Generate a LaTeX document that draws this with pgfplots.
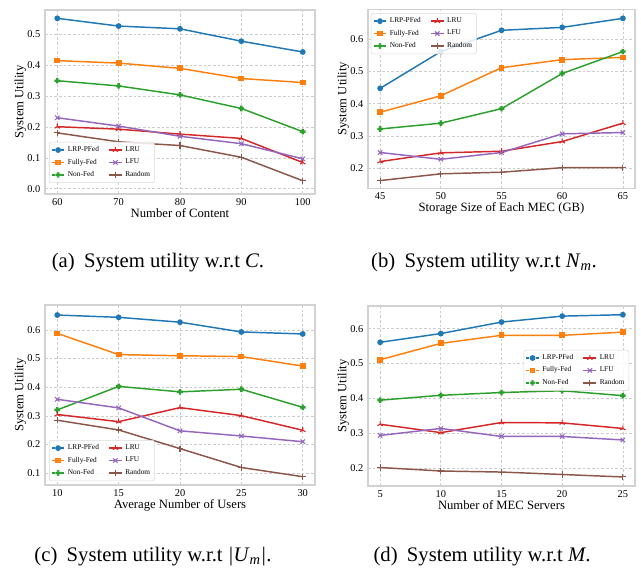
\documentclass[border=0pt]{standalone}
\usepackage{fontspec}
\setmainfont{Liberation Serif}
\usepackage{pgfplots}
\pgfplotsset{compat=1.18}
\usetikzlibrary{plotmarks}

\definecolor{cA}{HTML}{1F77B4}
\definecolor{cB}{HTML}{FF7F0E}
\definecolor{cC}{HTML}{2CA02C}
\definecolor{cD}{HTML}{D62728}
\definecolor{cE}{HTML}{9467BD}
\definecolor{cF}{HTML}{8C564B}

% filled plus marker (matplotlib "P")
\pgfdeclareplotmark{Pfill}{%
  \pgfpathrectangle{\pgfpoint{-\pgfplotmarksize}{-0.42\pgfplotmarksize}}{\pgfpoint{2\pgfplotmarksize}{0.84\pgfplotmarksize}}%
  \pgfpathrectangle{\pgfpoint{-0.42\pgfplotmarksize}{-\pgfplotmarksize}}{\pgfpoint{0.84\pgfplotmarksize}{2\pgfplotmarksize}}%
  \pgfusepathqfill}

\pgfplotsset{
  util/.style={
    scale only axis,
    axis line style={gray!35, line width=0.8pt},
    major tick length=0pt,
    grid=major,
    major grid style={gray!40, dash pattern=on 2pt off 1.5pt, line width=0.5pt},
    tick label style={font=\fontsize{7.8}{9}\selectfont},
    label style={font=\fontsize{9.5}{11}\selectfont},
    ylabel={System Utility},
    /pgf/number format/assume math mode=true,
    yticklabel style={/pgf/number format/.cd, fixed, fixed zerofill, precision=1},
    xtick=data,
    legend columns=3,
    transpose legend,
    legend cell align=left,
    legend style={font=\fontsize{5.5}{6.5}\selectfont, draw=gray!30, rounded corners=1.5pt,
      fill=white, fill opacity=0.85, text opacity=1, inner sep=1.2pt,
      /tikz/every even column/.append style={column sep=5pt}},
    legend image code/.code={\draw[mark repeat=2, mark phase=2]
      plot coordinates {(0cm,0cm) (0.17cm,0cm) (0.34cm,0cm)};},
    ylabel shift=-6pt,
    xlabel shift=-5pt,
  },
  dleg/.style={legend image code/.code={\draw[mark repeat=2, mark phase=2, dash pattern=on 2.4pt off 1.2pt]
      plot coordinates {(0cm,0cm) (0.17cm,0cm) (0.34cm,0cm)};}},
  sLRP/.style={cA, line width=1.1pt, mark=*, mark size=1.6pt, mark options={solid}, dleg},
  sFUL/.style={cB, line width=1.1pt, mark=square*, mark size=1.6pt, mark options={solid}, dleg},
  sNON/.style={cC, line width=1.1pt, mark=Pfill, mark size=2.1pt, mark options={solid}, dleg},
  sLRU/.style={cD, line width=1.1pt, mark=Mercedes star, mark size=2.3pt, mark options={solid, line width=0.8pt}},
  sLFU/.style={cE, line width=1.1pt, mark=x, mark size=2.3pt, mark options={solid, line width=0.8pt}},
  sRND/.style={cF, line width=1.1pt, mark=+, mark size=2.3pt, mark options={solid, line width=0.8pt}},
}

\begin{document}
\begin{tikzpicture}
\path[use as bounding box] (0pt,0pt) rectangle (480.75pt,428.25pt);

% (a) number of content
\begin{axis}[util, at={(33.75pt,282.75pt)}, anchor=south west,
    width=202.5pt, height=138pt,
    xmin=58, xmax=102, ymin=-0.017, ymax=0.579,
    ytick={0,0.1,0.2,0.3,0.4,0.5},
    xlabel={Number of Content},
    legend style={at={(0.015,0.06)}, anchor=south west}]
\addplot[sLRP] coordinates {(60,0.552) (70,0.527) (80,0.518) (90,0.478) (100,0.443)};
\addlegendentry{LRP-PFed}
\addplot[sFUL] coordinates {(60,0.415) (70,0.407) (80,0.390) (90,0.357) (100,0.344)};
\addlegendentry{Fully-Fed}
\addplot[sNON] coordinates {(60,0.350) (70,0.333) (80,0.304) (90,0.260) (100,0.185)};
\addlegendentry{Non-Fed}
\addplot[sLRU] coordinates {(60,0.201) (70,0.193) (80,0.177) (90,0.163) (100,0.085)};
\addlegendentry{LRU}
\addplot[sLFU] coordinates {(60,0.230) (70,0.203) (80,0.170) (90,0.146) (100,0.097)};
\addlegendentry{LFU}
\addplot[sRND] coordinates {(60,0.181) (70,0.152) (80,0.140) (90,0.102) (100,0.026)};
\addlegendentry{Random}
\end{axis}

% (b) storage size
\begin{axis}[util, at={(276pt,287pt)}, anchor=south west,
    width=200.25pt, height=134.25pt,
    xmin=44, xmax=66, ymin=0.138, ymax=0.693,
    ytick={0.2,0.3,0.4,0.5,0.6},
    xlabel={Storage Size of Each MEC (GB)},
    legend style={at={(0.011,0.979)}, anchor=north west}]
\addplot[sLRP] coordinates {(45,0.448) (50,0.562) (55,0.628) (60,0.637) (65,0.665)};
\addlegendentry{LRP-PFed}
\addplot[sFUL] coordinates {(45,0.374) (50,0.425) (55,0.512) (60,0.537) (65,0.544)};
\addlegendentry{Fully-Fed}
\addplot[sNON] coordinates {(45,0.322) (50,0.340) (55,0.385) (60,0.494) (65,0.562)};
\addlegendentry{Non-Fed}
\addplot[sLRU] coordinates {(45,0.221) (50,0.248) (55,0.253) (60,0.283) (65,0.340)};
\addlegendentry{LRU}
\addplot[sLFU] coordinates {(45,0.249) (50,0.228) (55,0.249) (60,0.307) (65,0.311)};
\addlegendentry{LFU}
\addplot[sRND] coordinates {(45,0.162) (50,0.183) (55,0.188) (60,0.202) (65,0.202)};
\addlegendentry{Random}
\end{axis}

% (c) average number of users
\begin{axis}[util, at={(33.75pt,64.5pt)}, anchor=south west,
    width=202.5pt, height=135pt,
    xmin=9, xmax=31, ymin=0.059, ymax=0.687,
    ytick={0.1,0.2,0.3,0.4,0.5,0.6},
    xlabel={Average Number of Users},
    legend style={at={(0.015,0.022)}, anchor=south west}]
\addplot[sLRP] coordinates {(10,0.652) (15,0.644) (20,0.627) (25,0.593) (30,0.586)};
\addlegendentry{LRP-PFed}
\addplot[sFUL] coordinates {(10,0.588) (15,0.514) (20,0.510) (25,0.507) (30,0.474)};
\addlegendentry{Fully-Fed}
\addplot[sNON] coordinates {(10,0.321) (15,0.403) (20,0.384) (25,0.393) (30,0.330)};
\addlegendentry{Non-Fed}
\addplot[sLRU] coordinates {(10,0.305) (15,0.280) (20,0.329) (25,0.301) (30,0.250)};
\addlegendentry{LRU}
\addplot[sLFU] coordinates {(10,0.358) (15,0.328) (20,0.248) (25,0.230) (30,0.210)};
\addlegendentry{LFU}
\addplot[sRND] coordinates {(10,0.285) (15,0.251) (20,0.186) (25,0.120) (30,0.088)};
\addlegendentry{Random}
\end{axis}

% (d) number of MEC servers
\begin{axis}[util, at={(276pt,63.75pt)}, anchor=south west,
    width=200.25pt, height=135pt,
    xmin=4, xmax=26, ymin=0.149, ymax=0.665,
    ytick={0.2,0.3,0.4,0.5,0.6},
    xlabel={Number of MEC Servers},
    legend style={at={(0.978,0.756)}, anchor=north east}]
\addplot[sLRP] coordinates {(5,0.561) (10,0.586) (15,0.619) (20,0.636) (25,0.640)};
\addlegendentry{LRP-PFed}
\addplot[sFUL] coordinates {(5,0.511) (10,0.558) (15,0.581) (20,0.581) (25,0.590)};
\addlegendentry{Fully-Fed}
\addplot[sNON] coordinates {(5,0.395) (10,0.409) (15,0.417) (20,0.422) (25,0.408)};
\addlegendentry{Non-Fed}
\addplot[sLRU] coordinates {(5,0.326) (10,0.302) (15,0.331) (20,0.330) (25,0.314)};
\addlegendentry{LRU}
\addplot[sLFU] coordinates {(5,0.294) (10,0.314) (15,0.291) (20,0.291) (25,0.281)};
\addlegendentry{LFU}
\addplot[sRND] coordinates {(5,0.202) (10,0.192) (15,0.189) (20,0.182) (25,0.175)};
\addlegendentry{Random}
\end{axis}

% sub-captions
\node[font=\fontsize{15.5}{17}\selectfont] at (118.5pt,231pt) {(a)\hspace{0.45em}System utility w.r.t \textit{C}.};
\node[font=\fontsize{15.5}{17}\selectfont] at (363pt,231pt) {(b)\hspace{0.45em}System utility w.r.t \textit{N}\textsubscript{\textit{m}}.};
\node[font=\fontsize{15.5}{17}\selectfont] at (114.75pt,10.5pt) {(c)\hspace{0.45em}System utility w.r.t \textit{|U}\textsubscript{\textit{m}}\textit{|}.};
\node[font=\fontsize{15.5}{17}\selectfont] at (361.5pt,10.5pt) {(d)\hspace{0.45em}System utility w.r.t \textit{M}.};
\end{tikzpicture}
\end{document}
